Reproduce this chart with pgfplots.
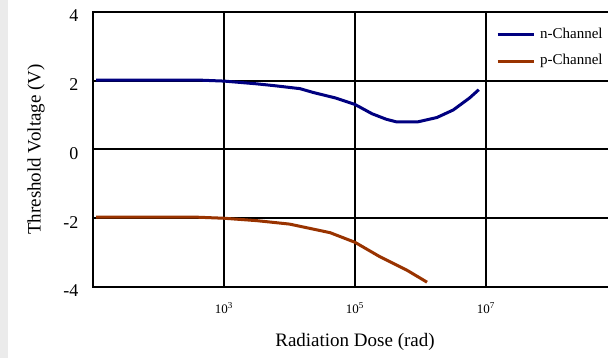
\documentclass[border=0pt]{standalone}
\usepackage{fontspec}
\setmainfont{Liberation Serif}
\usepackage{pgfplots}
\pgfplotsset{compat=1.18}
\definecolor{nch}{HTML}{000080}
\definecolor{pch}{HTML}{993300}
\definecolor{strip}{HTML}{EBEBEB}
\begin{document}
\begin{tikzpicture}[x=1pt,y=1pt]
\useasboundingbox (0,0) rectangle (608,358);
\clip (0,0) rectangle (608,358);
\fill[white] (0,0) rectangle (608,358);
\fill[strip] (0,0) rectangle (8,358);
\begin{axis}[
 at={(93pt,71pt)}, anchor=south west,
 scale only axis, width=524pt, height=275pt,
 xmode=log, xmin=10, xmax=1e9, ymin=-4, ymax=4,
 xtick={1e3,1e5,1e7},
 xticklabels={10\textsuperscript{3},10\textsuperscript{5},10\textsuperscript{7}},
 ytick={-4,-2,0,2,4}, yticklabels={-4,-2,0,2,4},
 grid=major, major grid style={black, line width=2pt},
 axis line style={black, line width=2pt},
 major tick length=0pt, minor tick length=0pt,
 xticklabel style={font=\fontsize{13}{15}\selectfont, anchor=center, yshift=-21pt},
 yticklabel style={font=\fontsize{18}{21}\selectfont, anchor=east, xshift=-11pt, yshift=-4pt},
 xlabel={Radiation Dose (rad)},
 ylabel={Threshold Voltage (V)},
 xlabel style={font=\fontsize{19}{23}\selectfont, at={(axis description cs:0.5,-0.2)}, anchor=center},
 ylabel style={font=\fontsize{19}{23}\selectfont, at={(axis description cs:-0.1088,0.5)}, anchor=center},
 legend style={at={(axis description cs:0.769,0.944)}, anchor=north west, draw=none, fill=none,
   font=\fontsize{15}{18}\selectfont, inner sep=0pt, row sep=12.5pt,
   nodes={inner sep=0pt, text height=10.5pt, text depth=3.5pt}},
 legend cell align=left,
 legend image code/.code={\draw[#1] (0pt,0pt) -- (36pt,0pt);},
 /tikz/every odd column/.append style={column sep=5pt},
]
\addplot[nch, line width=3pt] coordinates {
 (11.2,2.02) (398,2.02) (1000,1.99) (3162,1.91) (6310,1.85) (14450,1.77)
 (22900,1.66) (50100,1.50) (100000,1.31) (182000,1.04) (300000,0.88) (436500,0.80)
 (891000,0.80) (1778000,0.93) (3162000,1.15) (5620000,1.50) (7760000,1.74)
};
\addlegendentry{n-Channel}
\addplot[pch, line width=3pt] coordinates {
 (11.2,-1.97) (398,-1.97) (1000,-2.00) (3162,-2.07) (10000,-2.17)
 (41700,-2.42) (100000,-2.70) (240000,-3.12) (631000,-3.52) (1259000,-3.86)
};
\addlegendentry{p-Channel}
\end{axis}
\end{tikzpicture}
\end{document}
